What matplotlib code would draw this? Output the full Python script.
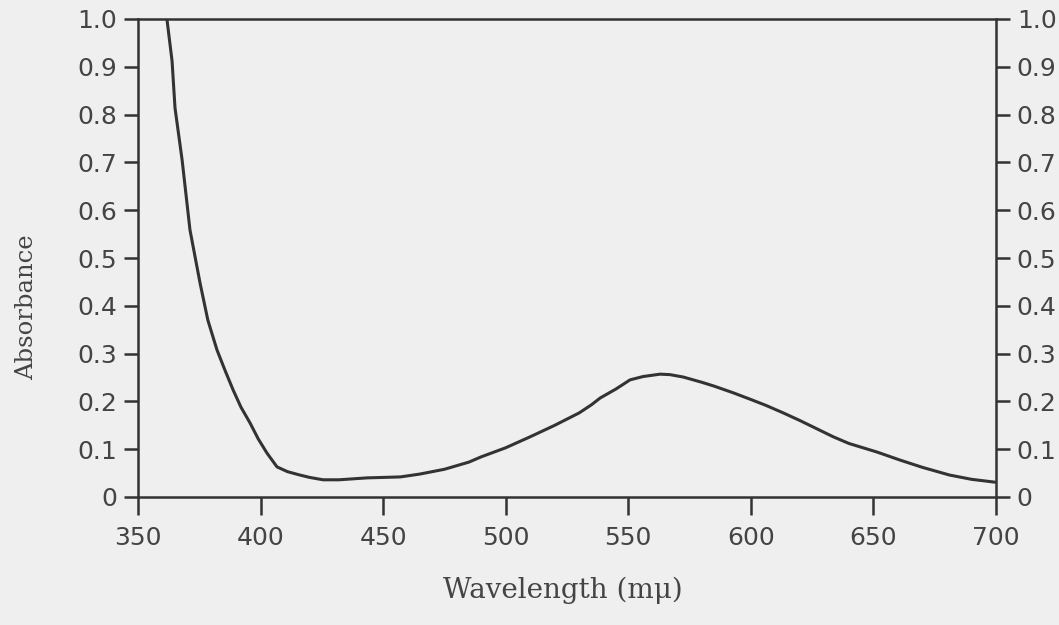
import matplotlib
matplotlib.use("Agg")
import matplotlib.pyplot as plt

# absorption spectrum (wavelength in m-mu, absorbance)
wavelength = [361.8, 363.9, 365.1, 368.0, 371.2, 375.3, 378.5,
              382.2, 385.5, 388.8, 392, 395.7, 399, 402.6, 406.7, 411,
              416, 420, 425.5, 432, 443.4, 457, 465, 475, 485, 490,
              500, 510, 520, 530, 535, 538.5, 545, 550.7, 556, 563, 567,
              572.4, 580, 585, 592.8, 600, 606, 613.2, 620, 626, 633.6,
              640, 651.5, 661, 670, 681, 690, 699.6]
absorbance = [1.0, 0.912, 0.814, 0.705, 0.559, 0.448, 0.37,
              0.308, 0.265, 0.224, 0.188, 0.155, 0.122, 0.092, 0.063, 0.053,
              0.046, 0.041, 0.036, 0.036, 0.04, 0.042, 0.048, 0.058,
              0.073, 0.084, 0.103, 0.126, 0.15, 0.176, 0.193, 0.207,
              0.226, 0.245, 0.252, 0.257, 0.256, 0.251, 0.24, 0.232, 0.218,
              0.204, 0.192, 0.176, 0.16, 0.145, 0.126, 0.112, 0.094, 0.077,
              0.062, 0.046, 0.037, 0.031]

xticks = [350, 400, 450, 500, 550, 600, 650, 700]
yticks = [0, 0.1, 0.2, 0.3, 0.4, 0.5, 0.6, 0.7, 0.8, 0.9, 1.0]
ylabels = ["0", "0.1", "0.2", "0.3", "0.4", "0.5", "0.6", "0.7", "0.8", "0.9", "1.0"]

bg = "#efefef"
ink = "#333333"
txt = "#444444"

fig = plt.figure(figsize=(10.59, 6.25), dpi=100, facecolor=bg)
ax = fig.add_axes([0.1303, 0.2048, 0.8102, 0.7648], facecolor=bg)

ax.plot(wavelength, absorbance, color=ink, lw=2.2, solid_capstyle="round",
        solid_joinstyle="round")

ax.set_xlim(350, 700)
ax.set_ylim(0, 1.0)
ax.set_xticks(xticks)
ax.set_xticklabels([str(v) for v in xticks])
ax.set_yticks(yticks)
ax.set_yticklabels(ylabels)

for s in ax.spines.values():
    s.set_color(ink)
    s.set_linewidth(1.8)

ax.tick_params(axis="y", which="both", left=True, right=True,
               labelleft=True, labelright=True, direction="out",
               length=10, width=1.8, color=ink, labelcolor=txt,
               labelsize=18, pad=5)
ax.tick_params(axis="x", direction="out", length=13, width=1.8, color=ink,
               labelcolor=txt, labelsize=18, pad=8)

fig.text(563 / 1059, 1 - 590 / 625, "Wavelength (mμ)", fontsize=20,
         color=txt, family="DejaVu Serif", ha="center", va="center")
fig.text(27 / 1059, 1 - 307 / 625, "Absorbance", fontsize=17.5,
         color=txt, family="DejaVu Serif", ha="center", va="center",
         rotation=90)

fig.savefig("out.png", dpi=100, facecolor=bg)
